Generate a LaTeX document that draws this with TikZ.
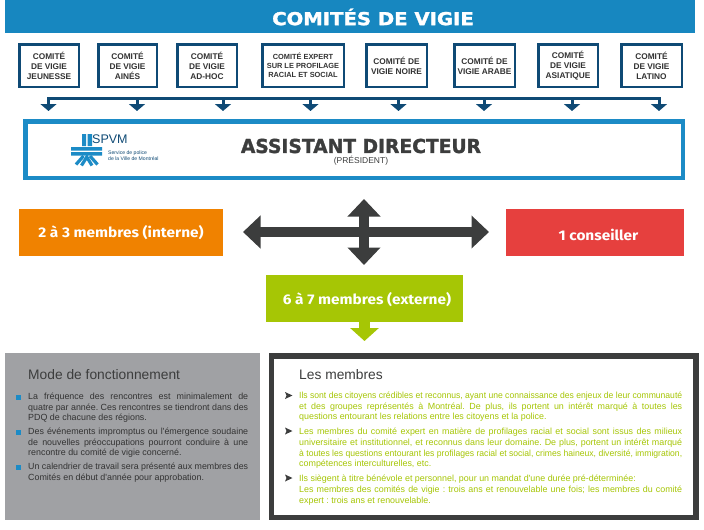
\documentclass[tikz,border=0pt]{standalone}
\usepackage{fontspec}
\usetikzlibrary{arrows.meta}
\setmainfont{Fira Sans}
\newfontfamily\labf{Liberation Sans}
\newfontfamily\heavyf[FakeBold=1.5]{DejaVu Sans Bold}
\definecolor{hblue}{HTML}{1787C0}
\definecolor{bblue}{HTML}{1C8BC6}
\definecolor{dblue}{HTML}{0F4A75}
\definecolor{dgray}{HTML}{3C3D3D}
\definecolor{ltxt}{HTML}{333333}
\definecolor{orng}{HTML}{F08200}
\definecolor{redb}{HTML}{E6403E}
\definecolor{grnb}{HTML}{A6C605}
\definecolor{grayb}{HTML}{A0A1A4}
\newsavebox\lbox
\newcommand{\fitline}[2]{\sbox\lbox{#2}\ifdim\wd\lbox>#1\relax\resizebox{#1}{\height}{\usebox\lbox}\else\makebox[#1][s]{#2}\fi\\}
\newcommand{\jg}[1]{\fitline{220pt}{#1}}
\newcommand{\jm}[1]{\fitline{383pt}{#1}}
\newcommand{\wdtxt}[1]{\scalebox{1.1}[1]{#1}}
\frenchspacing
\tikzset{
  cbox/.style={draw=dblue,line width=2.5pt,fill=white,inner sep=0pt,minimum height=42.5pt,align=center,text=ltxt,font=\labf\bfseries\fontsize{8.3}{10}\selectfont},
  cboxs/.style={cbox,font=\labf\bfseries\fontsize{7.4}{9}\selectfont},
  member/.style={inner sep=0pt,minimum height=47pt,text=white,font=\bfseries\fontsize{14}{16}\selectfont},
  busline/.style={draw=dblue,line width=3pt},
  drop/.style={draw=dblue,line width=3pt,-{Triangle[width=16pt,length=7pt]}},
  bigarrow/.style={draw=dgray,line width=10pt,{Triangle[width=32pt,length=17.5pt]}-{Triangle[width=32pt,length=17.5pt]}},
  para/.style={anchor=north west,inner sep=0pt,align=left,font=\labf\fontsize{8.9}{10.3}\selectfont},
  paneltitle/.style={anchor=base west,inner sep=0pt,text=dgray,font=\labf\fontsize{13.8}{15}\selectfont},
  sqb/.style={fill=bblue,inner sep=0pt,minimum size=5pt},
  logostroke/.style={draw=bblue,line width=3.2pt}
}
\begin{document}
\begin{tikzpicture}[x=1pt,y=-1pt]
\useasboundingbox (0,0) rectangle (704,530);
% header
\node[fill=hblue,inner sep=0pt,minimum width=690pt,minimum height=33pt] (head) at (350,16.5) {};
\node[inner sep=0pt,text=white] (headt) at (373,17) {\heavyf\scalebox{1.19}[1.08]{\fontsize{16.5}{18}\selectfont COMITÉS DE VIGIE}};
% committee boxes
\node[cbox,minimum width=59.5pt] (c1) at (49,65.5) {COMITÉ\\DE VIGIE\\JEUNESSE};
\node[cbox,minimum width=58.5pt] (c2) at (127.5,65.5) {COMITÉ\\DE VIGIE\\AINÉS};
\node[cbox,minimum width=59.5pt] (c3) at (207,65.5) {COMITÉ\\DE VIGIE\\AD-HOC};
\node[cboxs,minimum width=81.5pt] (c4) at (303,65.5) {COMITÉ EXPERT\\SUR LE PROFILAGE\\RACIAL ET SOCIAL};
\node[cbox,minimum width=60.5pt] (c5) at (396.5,65.5) {COMITÉ DE\\VIGIE NOIRE};
\node[cbox,minimum width=60.5pt] (c6) at (484.5,65.5) {COMITÉ DE\\VIGIE ARABE};
\node[cbox,minimum width=59.5pt] (c7) at (568,65.5) {COMITÉ\\DE VIGIE\\ASIATIQUE};
\node[cbox,minimum width=60.5pt] (c8) at (651.5,65.5) {COMITÉ\\DE VIGIE\\LATINO};
% bus
\coordinate (bl) at (47.5,98.5);
\coordinate (br) at (661,98.5);
\draw[busline] (bl) -- (br);
\foreach \n/\x in {1/48.5,2/137,3/223,4/310.5,5/398.5,6/484,7/572,8/659}{
  \coordinate (t\n) at (\x,97);
  \coordinate (e\n) at (\x,111);
  \draw[drop] (t\n) -- (e\n);
}
% assistant
\node[draw=bblue,line width=4.5pt,fill=white,inner sep=0pt,minimum width=657.5pt,minimum height=56.5pt] (asst) at (354,149.5) {};
\node[inner sep=0pt,text=dgray] (asstt) at (361,146) {\heavyf\scalebox{1.1}[1.13]{\fontsize{17}{19}\selectfont ASSISTANT DIRECTEUR}};
\node[inner sep=0pt,text=dgray,font=\labf\fontsize{8.5}{10}\selectfont] (pres) at (361,161) {(PRÉSIDENT)};
% logo
\fill[bblue] (82,134) rectangle (86,146) (87.5,134) rectangle (92,146);
\fill[bblue] (71,147) rectangle (102,150.5) (71,152) rectangle (102,155.5);
\draw[logostroke] (83.5,156) -- (76,164.5);
\draw[logostroke] (90,156) -- (97.5,164.5);
\draw[logostroke] (81.5,165.5) -- (86.8,157) -- (92,165.5);
\node[anchor=west,inner sep=0pt,text=dblue,font=\labf\fontsize{12.5}{13}\selectfont] (spvm) at (92,139.5) {SPVM};
\node[anchor=west,inner sep=0pt,align=left,text=dblue,font=\labf\fontsize{5.1}{5.8}\selectfont] (spvms) at (108,155.5) {Service de police\\de la Ville de Montréal};
% members
\node[member,fill=orng,minimum width=204pt] (int) at (121,232.5) {\wdtxt{2 à 3 membres (interne)}};
\node[member,fill=redb,minimum width=178pt] (cons) at (595,232.5) {};
\node[inner sep=0pt,text=white,font=\bfseries\fontsize{14}{16}\selectfont] (const) at (598.5,235) {\wdtxt{1 conseiller}};
\node[member,fill=grnb,minimum width=197pt] (ext) at (364.5,298.5) {};
\node[inner sep=0pt,text=white,font=\bfseries\fontsize{14}{16}\selectfont] (extt) at (367,300) {\wdtxt{6 à 7 membres (externe)}};
% arrows
\coordinate (al) at (243,232);
\coordinate (ar) at (489,232);
\coordinate (au) at (364,199);
\coordinate (ad) at (364,265);
\draw[bigarrow] (al) -- (ar);
\draw[bigarrow] (au) -- (ad);
\coordinate (ge) at (364.5,341);
\draw[draw=grnb,line width=11pt,-{Triangle[width=28pt,length=13pt]}] (ext.south) -- (ge);
% grey panel
\node[fill=grayb,inner sep=0pt,minimum width=255pt,minimum height=167pt] (gp) at (132.5,436.5) {};
\node[paneltitle] (gt) at (28,379) {Mode de fonctionnement};
\node[sqb] (s1) at (18.5,397) {};
\node[sqb] (s2) at (18.5,432) {};
\node[sqb] (s3) at (18.5,467) {};
\node[para,text=ltxt] (g1) at (28,393) {\jg{La fréquence des rencontres est minimalement de}\jg{quatre par année. Ces rencontres se tiendront dans des}PDQ de chacune des régions.};
\node[para,text=ltxt] (g2) at (28,428) {\jg{Des événements impromptus ou l'émergence soudaine}\jg{de nouvelles préoccupations pourront conduire à une}rencontre du comité de vigie concerné.};
\node[para,text=ltxt] (g3) at (28,463) {\jg{Un calendrier de travail sera présenté aux membres des}Comités en début d'année pour approbation.};
% members panel
\node[draw=dgray,line width=5.5pt,fill=white,inner sep=0pt,minimum width=424.5pt,minimum height=161.5pt] (mp) at (483.75,436.5) {};
\node[paneltitle] (mt) at (299,379) {Les membres};
\foreach \n/\y in {1/395.5,2/431,3/478}{
  \coordinate (b\n) at (285,\y);
  \fill[dgray] (b\n) ++(0,-3.5) -- ++(7.5,3.5) -- ++(-7.5,3.5) -- ++(1.5,-3.5) -- cycle;
}
\node[para,text=grnb] (m1) at (299,392) {\jm{Ils sont des citoyens crédibles et reconnus, ayant une connaissance des enjeux de leur communauté}\jm{et des groupes représentés à Montréal. De plus, ils portent un intérêt marqué à toutes les}questions entourant les relations entre les citoyens et la police.};
\node[para,text=grnb,font=\labf\fontsize{8.9}{10.9}\selectfont] (m2) at (299,427.5) {\jm{Les membres du comité expert en matière de profilages racial et social sont issus des milieux}\jm{universitaire et institutionnel, et reconnus dans leur domaine. De plus, portent un intérêt marqué}\jm{à toutes les questions entourant les profilages racial et social, crimes haineux, diversité, immigration,}compétences interculturelles, etc.};
\node[para,text=grnb,font=\labf\fontsize{8.9}{10.9}\selectfont] (m3) at (299,474.5) {Ils siègent à titre bénévole et personnel, pour un mandat d'une durée pré-déterminée:\\\jm{Les membres des comités de vigie : trois ans et renouvelable une fois; les membres du comité}expert : trois ans et renouvelable.};
\end{tikzpicture}
\end{document}
